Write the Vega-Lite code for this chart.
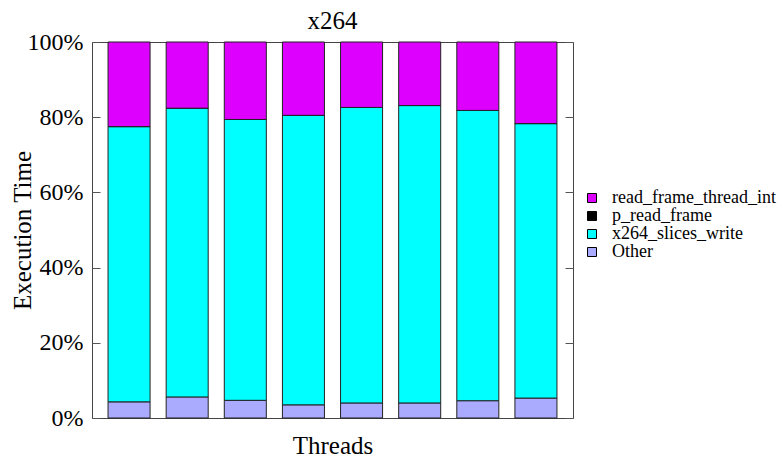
{
  "$schema": "https://vega.github.io/schema/vega-lite/v6.json",
  "width": 481,
  "height": 376,
  "autosize": {"type": "none"},
  "padding": {"left": 92, "top": 42, "right": 211, "bottom": 40},
  "title": {"text": "x264", "font": "Liberation Serif", "fontSize": 25, "fontWeight": "normal", "offset": -4, "color": "black"},
  "config": {"view": {"stroke": "#444", "strokeWidth": 1}, "font": "Liberation Serif"},
  "data": {"values": [
    {"run": "1", "func": "Other", "pct": 4.3},
    {"run": "1", "func": "x264_slices_write", "pct": 73.2},
    {"run": "1", "func": "p_read_frame", "pct": 0},
    {"run": "1", "func": "read_frame_thread_int", "pct": 22.5},
    {"run": "2", "func": "Other", "pct": 5.6},
    {"run": "2", "func": "x264_slices_write", "pct": 76.8},
    {"run": "2", "func": "p_read_frame", "pct": 0},
    {"run": "2", "func": "read_frame_thread_int", "pct": 17.6},
    {"run": "3", "func": "Other", "pct": 4.7},
    {"run": "3", "func": "x264_slices_write", "pct": 74.7},
    {"run": "3", "func": "p_read_frame", "pct": 0},
    {"run": "3", "func": "read_frame_thread_int", "pct": 20.6},
    {"run": "4", "func": "Other", "pct": 3.5},
    {"run": "4", "func": "x264_slices_write", "pct": 77.0},
    {"run": "4", "func": "p_read_frame", "pct": 0},
    {"run": "4", "func": "read_frame_thread_int", "pct": 19.5},
    {"run": "5", "func": "Other", "pct": 4.0},
    {"run": "5", "func": "x264_slices_write", "pct": 78.6},
    {"run": "5", "func": "p_read_frame", "pct": 0},
    {"run": "5", "func": "read_frame_thread_int", "pct": 17.4},
    {"run": "6", "func": "Other", "pct": 4.0},
    {"run": "6", "func": "x264_slices_write", "pct": 79.1},
    {"run": "6", "func": "p_read_frame", "pct": 0},
    {"run": "6", "func": "read_frame_thread_int", "pct": 16.9},
    {"run": "7", "func": "Other", "pct": 4.6},
    {"run": "7", "func": "x264_slices_write", "pct": 77.2},
    {"run": "7", "func": "p_read_frame", "pct": 0},
    {"run": "7", "func": "read_frame_thread_int", "pct": 18.2},
    {"run": "8", "func": "Other", "pct": 5.3},
    {"run": "8", "func": "x264_slices_write", "pct": 73.0},
    {"run": "8", "func": "p_read_frame", "pct": 0},
    {"run": "8", "func": "read_frame_thread_int", "pct": 21.7}
  ]},
  "transform": [
    {"calculate": "indexof(['Other','x264_slices_write','p_read_frame','read_frame_thread_int'], datum.func)", "as": "ord"}
  ],
  "layer": [
    {
      "mark": {"type": "bar", "stroke": "#222", "strokeWidth": 1},
      "encoding": {
        "x": {
          "field": "run", "type": "nominal",
          "scale": {"paddingInner": 0.277, "paddingOuter": 0.276},
          "axis": {"title": "Threads", "labels": false, "ticks": false, "domain": false,
                   "titleFontSize": 25, "titleFont": "Liberation Serif", "titleFontWeight": "normal",
                   "titlePadding": 15, "titleColor": "black"}
        },
        "y": {
          "field": "pct", "type": "quantitative", "stack": "zero",
          "scale": {"domain": [0, 100], "nice": false},
          "axis": {"title": "Execution Time", "values": [0, 20, 40, 60, 80, 100],
                   "labelExpr": "datum.value + '%'", "grid": false, "domain": false,
                   "tickSize": -8, "tickColor": "#555", "labelPadding": 17,
                   "labelFontSize": 24, "labelFont": "Liberation Serif", "labelColor": "black",
                   "titleFontSize": 25, "titleFont": "Liberation Serif", "titleFontWeight": "normal", "titleColor": "black",
                   "titleX": -70, "titleY": 188, "titleAngle": -90, "titleAlign": "center", "titleBaseline": "middle"}
        },
        "color": {
          "field": "func", "type": "nominal",
          "scale": {"domain": ["read_frame_thread_int", "p_read_frame", "x264_slices_write", "Other"],
                    "range": ["#dd00ff", "#000000", "#00ffff", "#aaaaff"]},
          "legend": {"title": null, "orient": "none", "legendX": 491, "legendY": 147,
                     "symbolType": "square", "symbolSize": 81, "symbolStrokeColor": "#000", "symbolStrokeWidth": 1,
                     "labelFont": "Liberation Serif", "labelFontSize": 18, "labelColor": "black",
                     "labelOffset": 11, "rowPadding": 0, "labelLimit": 300}
        },
        "order": {"field": "ord", "type": "quantitative"}
      }
    },
    {
      "mark": {"type": "rule", "opacity": 0},
      "encoding": {
        "y": {"datum": 0, "type": "quantitative",
              "axis": {"orient": "right", "title": null, "labels": false, "values": [0, 20, 40, 60, 80, 100],
                       "tickSize": -8, "tickColor": "#555", "domain": false, "grid": false}}
      }
    }
  ],
  "resolve": {"axis": {"y": "independent"}}
}
